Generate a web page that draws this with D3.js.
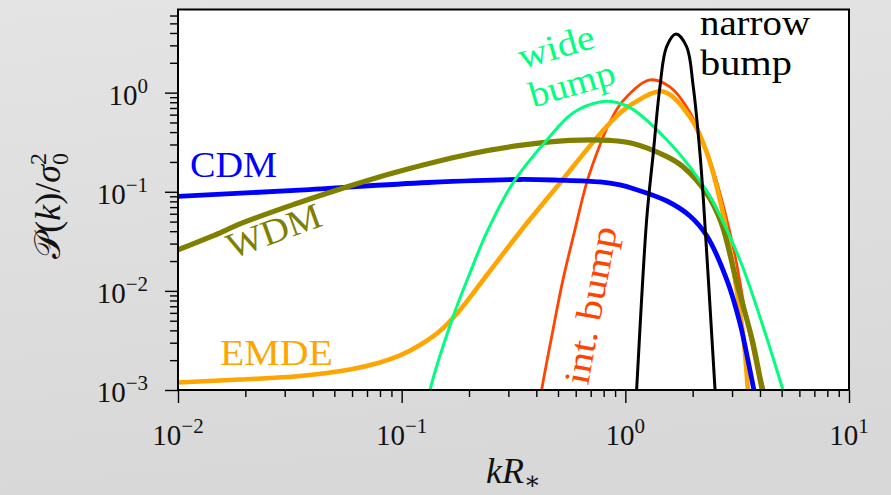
<!DOCTYPE html>
<html>
<head>
<meta charset="utf-8">
<script src="https://cdn.jsdelivr.net/npm/d3@7"></script>
<style>
  html, body { margin: 0; padding: 0; background: #dcdcdc; }
  svg { display: block; }
</style>
</head>
<body>
<svg id="chart" width="891" height="495"></svg>
<script>
// Power spectra P(k)/sigma0^2 against kR*
const cdmK = [0.01, 0.035, 0.131, 0.338, 0.5, 0.77, 0.946, 1.081, 1.535, 1.945, 2.316, 2.844, 3.253, 3.606, 3.835];
const cdmP = [0.0897, 0.104, 0.124, 0.133, 0.131, 0.1256, 0.1171, 0.108, 0.0807, 0.057, 0.0358, 0.0129, 0.00474, 0.00159, 0.00079];

const wdmK = [0.01, 0.01404, 0.01993, 0.03334, 0.0558, 0.0933, 0.202, 0.338, 0.565, 0.853, 1.081, 1.535, 1.809, 2.308, 2.675, 3.154, 3.72, 4.12, 4.45];
const wdmP = [0.0259, 0.0352, 0.0496, 0.0753, 0.1105, 0.1566, 0.2406, 0.2933, 0.3294, 0.3294, 0.3072, 0.226, 0.179, 0.0966, 0.0496, 0.012, 0.00298, 0.001, 0.0006];

const emdeK = [0.01, 0.01893, 0.0351, 0.0587, 0.08, 0.0983, 0.1207, 0.1483, 0.1823, 0.2405, 0.338, 0.51, 0.77, 0.946, 1.081, 1.472, 1.945, 2.316, 2.731, 3.027, 3.355, 3.532, 3.606];
const emdeP = [0.00119, 0.001276, 0.001384, 0.00161, 0.001895, 0.00223, 0.002845, 0.00394, 0.00642, 0.01447, 0.0393, 0.1227, 0.3833, 0.624, 0.778, 1.028, 0.569, 0.247, 0.0611, 0.0174, 0.00376, 0.001, 0.0005];

const intK = [0.41, 0.4227, 0.4747, 0.526, 0.595, 0.6735, 0.77, 0.853, 0.976, 1.288, 1.582, 1.945, 2.388, 2.788, 3.09, 3.424, 3.681, 4.04, 4.25];
const intP = [0.0006, 0.001, 0.00403, 0.0129, 0.0412, 0.1256, 0.2968, 0.506, 0.825, 1.343, 1.142, 0.631, 0.209, 0.0625, 0.023, 0.00642, 0.00284, 0.001, 0.0005];

const wideK = [0.128, 0.1338, 0.1696, 0.202, 0.243, 0.3145, 0.446, 0.583, 0.77, 0.917, 1.081, 1.535, 1.945, 2.438, 3.253, 3.997, 5.065, 5.4];
const wideP = [0.0006, 0.001, 0.00546, 0.0152, 0.0412, 0.1227, 0.333, 0.624, 0.806, 0.794, 0.678, 0.333, 0.178, 0.0826, 0.0205, 0.00546, 0.001, 0.0006];

const narrowK = [1.103, 1.123, 1.245, 1.333, 1.428, 1.530, 1.684, 1.879, 2.012, 2.156, 2.234, 2.515, 2.568];
const narrowP = [0.0005, 0.001, 0.0519, 0.2446, 1.15, 2.91, 3.9, 2.91, 1.15, 0.2446, 0.0826, 0.00105, 0.0005];

// Axis ticks
const xMajorTicks = [1e-2, 1e-1, 1, 10];
const xTickExponents = ["\u22122", "\u22121", "0", "1"];
const yMajorTicks = [1e-3, 1e-2, 1e-1, 1];
const yTickExponents = ["\u22123", "\u22122", "\u22121", "0"];

const series = [
  { name: "int. bump", k: intK, p: intP, color: "#ff4500", width: 2.8 },
  { name: "EMDE", k: emdeK, p: emdeP, color: "#ffa500", width: 4.6 },
  { name: "CDM", k: cdmK, p: cdmP, color: "#0000ff", width: 4.8 },
  { name: "WDM", k: wdmK, p: wdmP, color: "#808000", width: 5.2 },
  { name: "wide bump", k: wideK, p: wideP, color: "#00ff7f", width: 3 },
  { name: "narrow bump", k: narrowK, p: narrowP, color: "#000000", width: 3 }
];

// Curve labels, anchored in data space
const notes = [
  { lines: ["CDM"], k: 0.01131, p: 0.141, angle: 0, color: "#0000ff", len: [87] },
  { lines: ["WDM"], k: 0.01743, p: 0.021, angle: -20, color: "#808000", len: [98] },
  { lines: ["EMDE"], k: 0.0154, p: 0.00179, angle: 0, color: "#ffa500", len: [113] },
  { lines: ["int. bump"], k: 0.6805, p: 0.001098, angle: -79.5, color: "#ff4500", len: [160] },
  { lines: ["wide", "bump"], k: 0.345, p: 1.735, angle: -16, color: "#00ff7f", len: [78, 88] },
  { lines: ["narrow", "bump"], k: 2.156, p: 3.82, angle: 0, color: "#000000", len: [110, 92] }
];

const serif = "'Liberation Serif', 'DejaVu Serif', serif";
const W = 891, H = 495;
const plot = { left: 178, right: 849, top: 9.5, bottom: 390 };

const svg = d3.select("#chart");

// Page background
const defs = svg.append("defs");
const grad = defs.append("linearGradient").attr("id", "bg")
  .attr("x1", 0).attr("y1", 0).attr("x2", 0.15).attr("y2", 1);
grad.append("stop").attr("offset", 0).attr("stop-color", "#e4e4e4");
grad.append("stop").attr("offset", 1).attr("stop-color", "#d8d8d8");
svg.append("rect").attr("width", W).attr("height", H).attr("fill", "url(#bg)");

defs.append("clipPath").attr("id", "plotClip").append("rect")
  .attr("x", plot.left).attr("y", plot.top)
  .attr("width", plot.right - plot.left).attr("height", plot.bottom - plot.top);

const x = d3.scaleLog().domain([1e-2, 10]).range([plot.left, plot.right]);
const y = d3.scaleLog().domain([1e-3, 6.9]).range([plot.bottom, plot.top]);

// Plot area
svg.append("rect")
  .attr("x", plot.left).attr("y", plot.top)
  .attr("width", plot.right - plot.left).attr("height", plot.bottom - plot.top)
  .attr("fill", "#ffffff");

// Curves
const line = d3.line()
  .x(d => x(d[0])).y(d => y(d[1]))
  .curve(d3.curveCatmullRom.alpha(0.5));

svg.append("g").attr("clip-path", "url(#plotClip)")
  .selectAll("path").data(series).join("path")
  .attr("d", s => line(s.k.map((k, i) => [k, s.p[i]])))
  .attr("fill", "none")
  .attr("stroke", s => s.color)
  .attr("stroke-width", s => s.width)
  .attr("stroke-linejoin", "round")
  .attr("stroke-linecap", "butt");

// Ticks
const isMajor = v => Math.abs(Math.log10(v) - Math.round(Math.log10(v))) < 1e-6;
const xMinor = x.ticks().filter(v => !isMajor(v));
const yMinor = y.ticks().filter(v => !isMajor(v));

function styleAxis(g) {
  g.select(".domain").remove();
  g.selectAll(".tick line").attr("stroke", "#000").attr("stroke-width", 1.4);
  g.selectAll(".tick text").remove();
}

svg.append("g").attr("transform", `translate(0,${plot.bottom})`)
  .call(d3.axisBottom(x).tickValues(xMajorTicks).tickSize(13).tickFormat(""))
  .call(styleAxis);
svg.append("g").attr("transform", `translate(0,${plot.bottom})`)
  .call(d3.axisBottom(x).tickValues(xMinor).tickSize(7).tickFormat(""))
  .call(styleAxis);
svg.append("g").attr("transform", `translate(${plot.left},0)`)
  .call(d3.axisLeft(y).tickValues(yMajorTicks).tickSize(13).tickFormat(""))
  .call(styleAxis);
svg.append("g").attr("transform", `translate(${plot.left},0)`)
  .call(d3.axisLeft(y).tickValues(yMinor).tickSize(8).tickFormat(""))
  .call(styleAxis);

// Frame
svg.append("rect")
  .attr("x", plot.left).attr("y", plot.top)
  .attr("width", plot.right - plot.left).attr("height", plot.bottom - plot.top)
  .attr("fill", "none").attr("stroke", "#000").attr("stroke-width", 2);

// Tick labels as powers of ten
function powerLabel(t, exp) {
  t.append("tspan").text("10");
  t.append("tspan").attr("dy", -12).attr("font-size", 21).text(exp);
}

xMajorTicks.forEach((v, i) => {
  const t = svg.append("text")
    .attr("x", x(v)).attr("y", 445)
    .attr("text-anchor", "middle")
    .attr("font-family", serif).attr("font-size", 29).attr("fill", "#111");
  powerLabel(t, xTickExponents[i]);
});

yMajorTicks.forEach((v, i) => {
  const t = svg.append("text")
    .attr("x", 148).attr("y", y(v) + 12)
    .attr("text-anchor", "end")
    .attr("font-family", serif).attr("font-size", 29).attr("fill", "#111");
  powerLabel(t, yTickExponents[i]);
});

// Axis titles
const xt = svg.append("text")
  .attr("x", (plot.left + plot.right) / 2).attr("y", 483)
  .attr("text-anchor", "middle")
  .attr("font-family", serif).attr("font-size", 36).attr("fill", "#111");
xt.append("tspan").attr("font-style", "italic").text("kR");
xt.append("tspan").attr("dy", 6).attr("font-size", 25).text("\u2217");

const yt = svg.append("text")
  .attr("transform", `translate(60,${(plot.top + plot.bottom) / 2 + 6}) rotate(-90)`)
  .attr("text-anchor", "middle")
  .attr("font-family", serif).attr("font-size", 36).attr("fill", "#111");
yt.append("tspan").text("\uD835\uDCAB");
yt.append("tspan").text("(");
yt.append("tspan").attr("font-style", "italic").text("k");
yt.append("tspan").text(")/");
yt.append("tspan").attr("font-style", "italic").text("\u03C3");
yt.append("tspan").attr("dy", 8).attr("font-size", 24).text("0");
yt.append("tspan").attr("dx", -12).attr("dy", -22).attr("font-size", 24).text("2");

// Curve labels
notes.forEach(n => {
  const g = svg.append("g")
    .attr("transform", `translate(${x(n.k)},${y(n.p)}) rotate(${n.angle})`);
  n.lines.forEach((s, i) => {
    g.append("text")
      .attr("x", 0).attr("y", i * 40)
      .attr("font-family", serif).attr("font-size", 36)
      .attr("fill", n.color)
      .attr("textLength", n.len[i]).attr("lengthAdjust", "spacingAndGlyphs")
      .text(s);
  });
});
</script>
</body>
</html>
